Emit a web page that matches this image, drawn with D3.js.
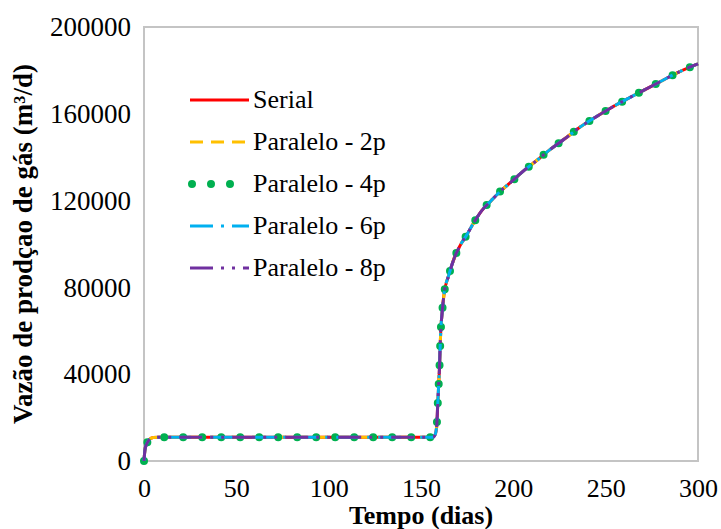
<!DOCTYPE html>
<html>
<head>
<meta charset="utf-8">
<script src="https://cdn.jsdelivr.net/npm/d3@7"></script>
<style>
  html, body { margin: 0; padding: 0; background: #fff; }
  svg { display: block; }
</style>
</head>
<body>
<svg id="chart" width="721" height="529"></svg>
<script>
// ---- Data ----
const days = [0, 0.5, 1.5, 3, 5, 8, 20, 60, 100, 140, 156.5, 157.6, 158.5, 159, 159.5, 160, 160.3, 160.7, 161.4, 162.5, 165, 168, 171, 175, 178, 183, 188, 193, 199, 206, 213, 220, 228, 236, 244, 253, 262, 271, 280, 289, 300];
const serial =      [0, 5000, 8000, 10000, 10800, 11000, 11000, 11000, 11000, 11000, 11000, 12000, 16000, 25000, 34000, 43000, 51000, 60000, 68000, 77000, 85500, 93500, 99000, 104500, 109000, 115500, 120000, 124300, 128700, 134000, 138700, 143600, 148600, 153800, 158200, 162800, 167000, 171000, 175000, 179000, 183000];
const paralelo2p =  [0, 5000, 8000, 10000, 10800, 11000, 11000, 11000, 11000, 11000, 11000, 12000, 16000, 25000, 34000, 43000, 51000, 60000, 68000, 77000, 85500, 93500, 99000, 104500, 109000, 115500, 120000, 124300, 128700, 134000, 138700, 143600, 148600, 153800, 158200, 162800, 167000, 171000, 175000, 179000, 183000];
const paralelo4p =  [0, 5000, 8000, 10000, 10800, 11000, 11000, 11000, 11000, 11000, 11000, 12000, 16000, 25000, 34000, 43000, 51000, 60000, 68000, 77000, 85500, 93500, 99000, 104500, 109000, 115500, 120000, 124300, 128700, 134000, 138700, 143600, 148600, 153800, 158200, 162800, 167000, 171000, 175000, 179000, 183000];
const paralelo6p =  [0, 5000, 8000, 10000, 10800, 11000, 11000, 11000, 11000, 11000, 11000, 12000, 16000, 25000, 34000, 43000, 51000, 60000, 68000, 77000, 85500, 93500, 99000, 104500, 109000, 115500, 120000, 124300, 128700, 134000, 138700, 143600, 148600, 153800, 158200, 162800, 167000, 171000, 175000, 179000, 183000];
const paralelo8p =  [0, 5000, 8000, 10000, 10800, 11000, 11000, 11000, 11000, 11000, 11000, 12000, 16000, 25000, 34000, 43000, 51000, 60000, 68000, 77000, 85500, 93500, 99000, 104500, 109000, 115500, 120000, 124300, 128700, 134000, 138700, 143600, 148600, 153800, 158200, 162800, 167000, 171000, 175000, 179000, 183000];

const seriesNames = ["Serial", "Paralelo - 2p", "Paralelo - 4p", "Paralelo - 6p", "Paralelo - 8p"];
const xTicks = [0, 50, 100, 150, 200, 250, 300];
const yTicks = [0, 40000, 80000, 120000, 160000, 200000];
const xTitle = "Tempo (dias)";
const yTitle = "Vazão de prodçao de gás (m³/d)";

// ---- Styles ----
const FONT = "Liberation Serif, Times New Roman, serif";
const styles = [
  { color: "#FF0000", width: 3, dash: null, cap: "butt" },
  { color: "#FFC000", width: 3, dash: "13,8", cap: "butt" },
  { color: "#00B050", width: 8, dash: "0,19", cap: "round" },
  { color: "#00B0F0", width: 3, dash: "23,8,3,8", cap: "butt" },
  { color: "#7030A0", width: 3, dash: "23,8,3,8,3,8", cap: "butt" }
];
const seriesValues = [serial, paralelo2p, paralelo4p, paralelo6p, paralelo8p];

const svg = d3.select("#chart");
const plotLeft = 144, plotTop = 27, plotRight = 698, plotBottom = 461;

const x = d3.scaleLinear().domain([0, 300]).range([plotLeft, plotRight]);
const y = d3.scaleLinear().domain([0, 200000]).range([plotBottom, plotTop]);

// Plot frame
svg.append("rect")
  .attr("x", plotLeft).attr("y", plotTop)
  .attr("width", plotRight - plotLeft).attr("height", plotBottom - plotTop)
  .attr("fill", "none").attr("stroke", "#c4c4c4").attr("stroke-width", 2);

// Axes (labels only, no tick marks)
const yAxis = d3.axisLeft(y).tickValues(yTicks).tickSize(0).tickPadding(13).tickFormat(d3.format("d"));
const gy = svg.append("g").attr("transform", `translate(${plotLeft},0)`).call(yAxis)
  .attr("font-family", FONT).attr("font-size", 27);
gy.select(".domain").remove();
gy.selectAll("text").attr("fill", "#000");

const xAxis = d3.axisBottom(x).tickValues(xTicks).tickSize(0).tickPadding(18).tickFormat(d3.format("d"));
const gx = svg.append("g").attr("transform", `translate(0,${plotBottom})`).call(xAxis)
  .attr("font-family", FONT).attr("font-size", 26);
gx.select(".domain").remove();
gx.selectAll("text").attr("fill", "#000");

// Lines
const line = d3.line().x(d => x(d[0])).y(d => y(d[1])).curve(d3.curveMonotoneX);
seriesValues.forEach((vals, i) => {
  const pts = days.map((d, j) => [d, vals[j]]);
  const s = styles[i];
  svg.append("path")
    .datum(pts)
    .attr("d", line)
    .attr("fill", "none")
    .attr("stroke", s.color)
    .attr("stroke-width", s.width)
    .attr("stroke-linecap", s.cap)
    .attr("stroke-linejoin", "round")
    .attr("stroke-dasharray", s.dash);
});

// Legend
const legendY0 = 100, legendStep = 42;
seriesNames.forEach((name, i) => {
  const s = styles[i];
  const yy = legendY0 + i * legendStep;
  const x0 = i === 2 ? 192 : 190;
  svg.append("line")
    .attr("x1", x0).attr("x2", 249)
    .attr("y1", yy).attr("y2", yy)
    .attr("stroke", s.color)
    .attr("stroke-width", s.width)
    .attr("stroke-linecap", s.cap)
    .attr("stroke-dasharray", s.dash);
  svg.append("text")
    .attr("x", 253).attr("y", yy + 8)
    .attr("font-family", FONT).attr("font-size", 26).attr("fill", "#000")
    .text(name);
});

// Axis titles
svg.append("text")
  .attr("x", (plotLeft + plotRight) / 2).attr("y", 524)
  .attr("text-anchor", "middle")
  .attr("font-family", FONT).attr("font-size", 26).attr("font-weight", "bold").attr("fill", "#000")
  .text(xTitle);

svg.append("text")
  .attr("transform", `translate(32,${(plotTop + plotBottom) / 2}) rotate(-90)`)
  .attr("text-anchor", "middle")
  .attr("font-family", FONT).attr("font-size", 27).attr("font-weight", "bold").attr("fill", "#000")
  .text(yTitle);
</script>
</body>
</html>
